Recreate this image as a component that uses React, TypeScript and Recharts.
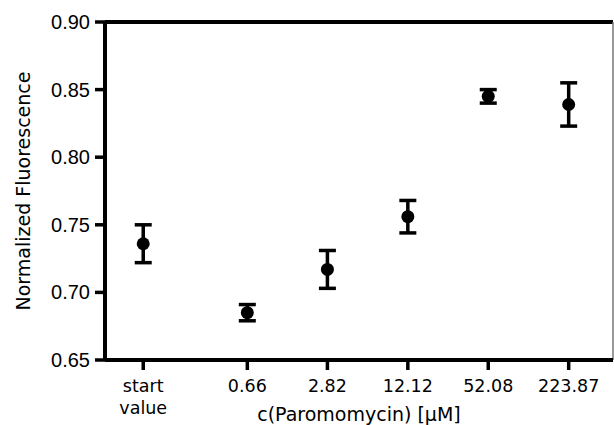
import React from 'react';
import { ScatterChart, Scatter, XAxis, YAxis, ErrorBar, ReferenceLine } from 'recharts';

// Categories (tick labels) and their plotted concentration (start value drawn at 0.1 µM on the log axis)
const categories = ['start value', '0.66', '2.82', '12.12', '52.08', '223.87'];
const concentrations = [0.1, 0.66, 2.82, 12.12, 52.08, 223.87];
const means = [0.736, 0.685, 0.717, 0.756, 0.845, 0.839];
const errors = [0.014, 0.006, 0.014, 0.012, 0.005, 0.016];
const yTicks = [0.65, 0.7, 0.75, 0.8, 0.85, 0.9];

const data = concentrations.map((x, i) => ({ x, y: means[i], err: errors[i], label: categories[i] }));

const TICK_FONT = '"DejaVu Sans", sans-serif';

const XTick = (props: any) => {
  const { x, y, payload } = props;
  const idx = concentrations.indexOf(payload.value);
  const label = idx >= 0 ? categories[idx] : String(payload.value);
  const lines = label.split(' ');
  return (
    <g>
      {lines.map((ln: string, i: number) => (
        <text key={i} x={x} y={y + 20 + i * 22} textAnchor="middle" fontFamily={TICK_FONT} fontSize={17.5} fill="#000">
          {ln}
        </text>
      ))}
    </g>
  );
};

const YTick = (props: any) => {
  const { x, y, payload } = props;
  return (
    <text x={x} y={y + 7} textAnchor="end" fontFamily='"Liberation Sans", Arial, sans-serif' fontSize={20} fill="#000">
      {Number(payload.value).toFixed(2)}
    </text>
  );
};

const Dot = (props: any) => {
  const { cx, cy } = props;
  return <circle cx={cx} cy={cy} r={6.5} fill="#000" />;
};

export default function App() {
  return (
    <div style={{ position: 'absolute', left: 0, top: 0, background: '#fff' }}>
      <ScatterChart width={614} height={425} margin={{ top: 22, right: 1, left: 0, bottom: 0 }}>
        <XAxis
          type="number"
          dataKey="x"
          scale="log"
          domain={[0.05, 500]}
          allowDataOverflow
          ticks={concentrations}
          interval={0}
          height={65}
          tick={<XTick />}
          tickSize={10}
          axisLine={{ stroke: '#000', strokeWidth: 4 }}
          tickLine={{ stroke: '#000', strokeWidth: 3.5 }}
          label={{ value: 'c(Paromomycin) [µM]', position: 'insideBottom', offset: 4, fontFamily: TICK_FONT, fontSize: 19, fill: '#000' }}
        />
        <YAxis
          type="number"
          dataKey="y"
          domain={[0.65, 0.9]}
          ticks={yTicks}
          interval={0}
          width={105}
          tickSize={10}
          tickMargin={5}
          tick={<YTick />}
          axisLine={{ stroke: '#000', strokeWidth: 4 }}
          tickLine={{ stroke: '#000', strokeWidth: 3.5 }}
          label={{ value: 'Normalized Fluorescence', angle: -90, position: 'center', dx: -29, fontFamily: TICK_FONT, fontSize: 19, fill: '#000' }}
        />
        <ReferenceLine y={0.9} stroke="#000" strokeWidth={4} />
        <ReferenceLine x={500} stroke="#777" strokeWidth={1.5} />
        <Scatter data={data} fill="#000" shape={<Dot />} isAnimationActive={false}>
          <ErrorBar dataKey="err" direction="y" width={8.5} stroke="#000" strokeWidth={3.5} isAnimationActive={false} />
        </Scatter>
      </ScatterChart>
    </div>
  );
}
